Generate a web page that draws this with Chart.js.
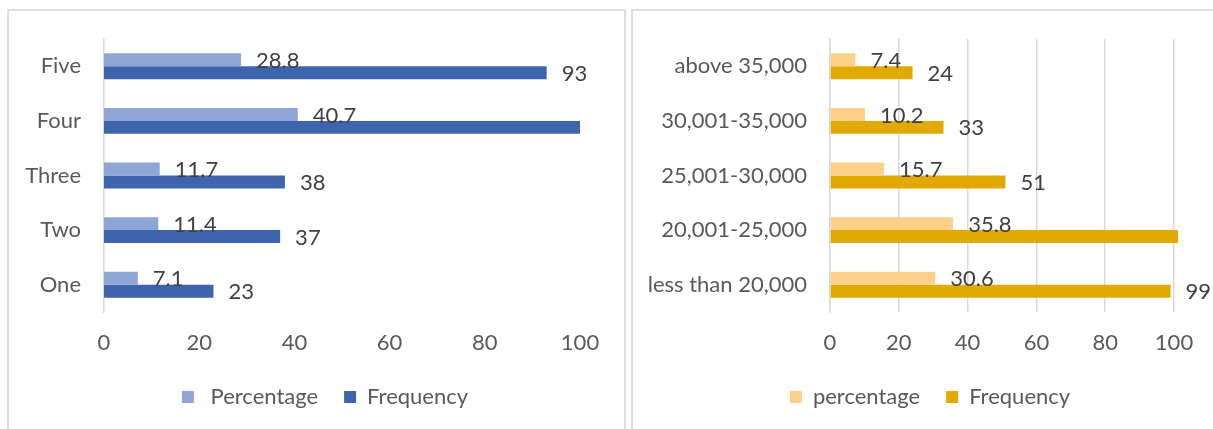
<!DOCTYPE html>
<html>
<head>
<meta charset="utf-8">
<script src="https://cdn.jsdelivr.net/npm/chart.js@4.4.1/dist/chart.umd.min.js"></script>
<style>
  html, body { margin: 0; padding: 0; background: #fff; width: 1213px; height: 429px; overflow: hidden; }
  .frame { position: absolute; border: 2px solid #DEDEDE; box-sizing: border-box; }
  #frameLeft { left: 7px; top: 9px; width: 619px; height: 450px; }
  #frameRight { left: 631px; top: 9px; width: 600px; height: 450px; }
  canvas { position: absolute; }
  #chartLeft { left: 8px; top: 10px; }
  #chartRight { left: 632px; top: 10px; }
</style>
</head>
<body>
<div class="frame" id="frameLeft"></div>
<div class="frame" id="frameRight"></div>
<canvas id="chartLeft" width="615" height="440"></canvas>
<canvas id="chartRight" width="581" height="440"></canvas>
<script>
// Left chart: number of members
const memberCategories = ['Five', 'Four', 'Three', 'Two', 'One'];
const memberPercentage = [28.8, 40.7, 11.7, 11.4, 7.1];
const memberFrequency  = [93, 132, 38, 37, 23];

// Right chart: monthly income
const incomeCategories = ['above 35,000', '30,001-35,000', '25,001-30,000', '20,001-25,000', 'less than 20,000'];
const incomePercentage = [7.4, 10.2, 15.7, 35.8, 30.6];
const incomeFrequency  = [24, 33, 51, 116, 99];

const xTicks = [0, 20, 40, 60, 80, 100];

const FONT = 'Lato';
const FONT_SIZE = 22;
const TICK_COLOR = '#595959';
const LABEL_COLOR = '#404040';
const GRID_COLOR = '#D9D9D9';

// Writes each bar's value just past its end; bars running off the axis get no label
const valueLabels = {
  id: 'valueLabels',
  afterDatasetsDraw(chart) {
    const ctx = chart.ctx;
    const xMax = chart.scales.x.max;
    ctx.save();
    ctx.font = FONT_SIZE + 'px ' + FONT;
    ctx.fillStyle = LABEL_COLOR;
    ctx.textAlign = 'left';
    ctx.textBaseline = 'middle';
    chart.data.datasets.forEach((ds, i) => {
      chart.getDatasetMeta(i).data.forEach((bar, j) => {
        const v = ds.data[j];
        if (v > xMax) return;
        ctx.fillText(String(v), bar.x + 15, bar.y + 1);
      });
    });
    ctx.restore();
  }
};

// Moves the legend block so it is centred on the given x
const legendShift = {
  id: 'legendShift',
  afterLayout(chart, args, opts) {
    const lg = chart.legend;
    if (!lg || opts.center == null) return;
    const dx = opts.center - (lg.left + lg.right) / 2;
    lg.left += dx;
    lg.right += dx;
  }
};

function makeChart(id, labels, pct, freq, names, colors, opts) {
  return new Chart(document.getElementById(id), {
    type: 'bar',
    data: {
      labels: labels,
      datasets: [
        { label: names[0], data: pct, backgroundColor: colors[0] },
        { label: names[1], data: freq, backgroundColor: colors[1],
          clip: { left: 0, top: false, right: opts.overflow, bottom: false } }
      ]
    },
    plugins: [valueLabels, legendShift],
    options: {
      indexAxis: 'y',
      responsive: false,
      animation: false,
      devicePixelRatio: 1,
      datasets: { bar: { categoryPercentage: 0.475, barPercentage: 1.0 } },
      layout: { padding: { top: 29, bottom: 32, left: 0, right: opts.padRight } },
      scales: {
        x: {
          min: 0, max: 100,
          afterBuildTicks(s) { s.ticks = xTicks.map(v => ({ value: v })); },
          afterFit(s) { s.height = 48; s.paddingLeft = 0; s.paddingRight = 0; },
          grid: { display: opts.grid, color: GRID_COLOR, lineWidth: 1.5, drawTicks: false },
          border: { display: false },
          ticks: { color: TICK_COLOR, font: { family: FONT, size: FONT_SIZE }, padding: 18 }
        },
        y: {
          afterFit(s) { s.width = opts.yWidth; s.paddingTop = 0; s.paddingBottom = 0; },
          grid: { display: false, drawTicks: false },
          border: { display: true, color: GRID_COLOR, width: 1.5 },
          ticks: { color: TICK_COLOR, font: { family: FONT, size: FONT_SIZE }, padding: 23 }
        }
      },
      plugins: {
        tooltip: { enabled: false },
        legendShift: { center: opts.legendCenter },
        legend: {
          position: 'bottom',
          labels: {
            color: TICK_COLOR,
            font: { family: FONT, size: FONT_SIZE },
            boxWidth: 12, boxHeight: 12,
            padding: 26
          }
        }
      }
    }
  });
}

makeChart('chartLeft', memberCategories, memberPercentage, memberFrequency,
  [' Percentage', 'Frequency'], ['#8EA5D5', '#3D64AD'],
  { padRight: 43, yWidth: 96, grid: false, legendCenter: 317, overflow: 0 });

makeChart('chartRight', incomeCategories, incomePercentage, incomeFrequency,
  ['percentage', 'Frequency'], ['#FFD08A', '#E2A900'],
  { padRight: 39, yWidth: 198, grid: true, legendCenter: 298, overflow: 4 });
</script>
</body>
</html>
